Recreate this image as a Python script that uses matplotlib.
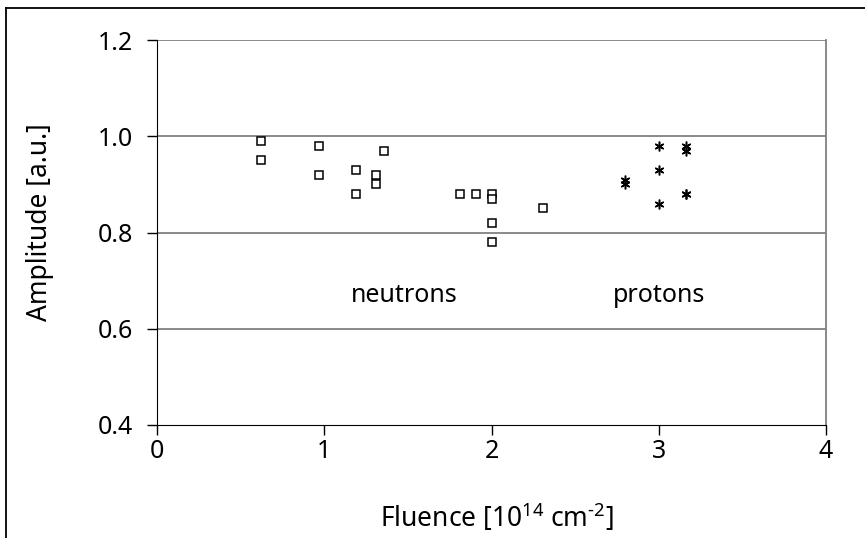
import matplotlib
matplotlib.use("Agg")
import matplotlib.pyplot as plt
from matplotlib.lines import Line2D
from matplotlib.ticker import FormatStrFormatter

plt.rcParams['font.family'] = ['Noto Sans', 'DejaVu Sans']
plt.rcParams['mathtext.fontset'] = 'custom'
plt.rcParams['mathtext.rm'] = 'Noto Sans'

neutron_fluence = [0.62, 0.62, 0.97, 0.97, 1.19, 1.19, 1.31, 1.31, 1.36,
                   1.81, 1.91, 2.0, 2.0, 2.0, 2.0, 2.31]
neutron_amp = [0.99, 0.95, 0.98, 0.92, 0.93, 0.88, 0.92, 0.90, 0.97,
               0.88, 0.88, 0.88, 0.87, 0.82, 0.78, 0.85]
proton_fluence = [2.8, 2.8, 3.0, 3.0, 3.0, 3.16, 3.16, 3.16, 3.16]
proton_amp = [0.91, 0.90, 0.98, 0.93, 0.86, 0.98, 0.97, 0.88, 0.88]

x_ticks = [0, 1, 2, 3, 4]
y_ticks = [0.4, 0.6, 0.8, 1.0, 1.2]

FS = 18
LFS = 19

fig = plt.figure(figsize=(8.65, 5.38), dpi=100)
ax = fig.add_axes([157/865, 113/538, (826-157)/865, (425-40)/538])

for y in [0.6, 0.8, 1.0, 1.2]:
    ax.axhline(y, color='#808080', lw=1.3, zorder=1)

ax.plot(neutron_fluence, neutron_amp, ls='none', marker='s', ms=6.2,
        mfc='white', mec='black', mew=1.1, zorder=3)
ax.plot(proton_fluence, proton_amp, ls='none', marker=(6, 2, 0), ms=7,
        mec='black', mew=1.1, zorder=3)

ax.set_xlim(0, 4)
ax.set_ylim(0.4, 1.2)
ax.set_xticks(x_ticks)
ax.set_yticks(y_ticks)
ax.yaxis.set_major_formatter(FormatStrFormatter('%.1f'))
ax.tick_params(direction='out', length=7, width=1, colors='black',
               labelsize=FS)
ax.tick_params(axis='y', pad=10)
ax.tick_params(axis='x', pad=3)
ax.spines['top'].set_visible(False)
ax.spines['right'].set_color('#808080')
ax.spines['right'].set_linewidth(1.3)
ax.spines['left'].set_color('black')
ax.spines['bottom'].set_color('black')

ax.text(1.48, 0.67, 'neutrons', fontsize=FS, ha='center', va='center')
ax.text(3.0, 0.67, 'protons', fontsize=FS, ha='center', va='center')

fig.text(497/865, 1 - 518/538, r'Fluence [10$^{14}$ cm$^{\text{-}2}$]', fontsize=LFS,
         ha='center', va='center')
fig.text(40/865, 1 - 222/538, 'Amplitude [a.u.]', fontsize=LFS, rotation=90,
         ha='center', va='center')

fig.add_artist(Line2D([6/865, 1], [1 - 8/538, 1 - 8/538], color='black', lw=1.3,
                      transform=fig.transFigure))
fig.add_artist(Line2D([6/865, 6/865], [0, 1 - 8/538], color='black', lw=1.3,
                      transform=fig.transFigure))

fig.savefig('out.png', dpi=100)
